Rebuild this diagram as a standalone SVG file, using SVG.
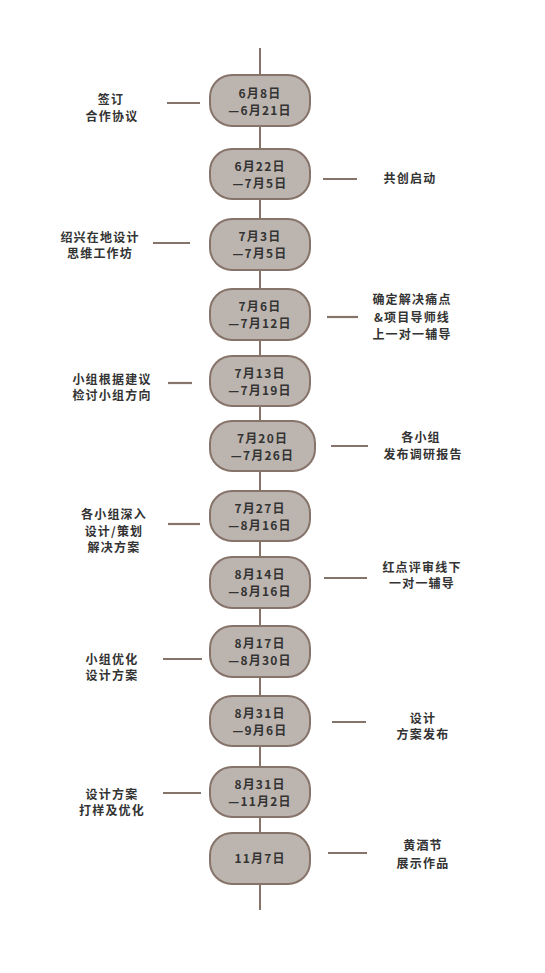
<svg xmlns="http://www.w3.org/2000/svg" width="545" height="973" viewBox="0 0 545 973">
<style>
.bg{fill:#ffffff}
.spine{stroke:#86736a;stroke-width:2;fill:none}
.conn{stroke:#86736a;stroke-width:2.2;fill:none}
.node rect{fill:#bcb5af;stroke:#86736a;stroke-width:2}
text{font-family:"Noto Sans CJK SC","Noto Sans",sans-serif;font-weight:bold;font-size:12px;fill:#333333;text-anchor:middle;letter-spacing:1.2px}
</style>
<rect class="bg" x="0" y="0" width="545" height="973"/>
<g id="connectors">
<line class="spine" x1="260" y1="48" x2="260" y2="910"/>
<line class="conn" x1="167" y1="103" x2="200" y2="103"/>
<line class="conn" x1="323" y1="179" x2="357" y2="179"/>
<line class="conn" x1="153" y1="243" x2="190" y2="243"/>
<line class="conn" x1="327" y1="317" x2="358" y2="317"/>
<line class="conn" x1="168" y1="383" x2="192" y2="383"/>
<line class="conn" x1="331" y1="446" x2="368" y2="446"/>
<line class="conn" x1="168" y1="524" x2="200" y2="524"/>
<line class="conn" x1="324" y1="578" x2="367" y2="578"/>
<line class="conn" x1="163" y1="659" x2="202" y2="659"/>
<line class="conn" x1="332" y1="722" x2="366" y2="722"/>
<line class="conn" x1="163" y1="793" x2="201" y2="793"/>
<line class="conn" x1="328" y1="853" x2="367" y2="853"/>
</g>
<g id="n1" class="node"><rect x="210" y="75" width="100" height="51" rx="22"/><text x="260" y="97.5">6月8日<tspan x="260" dy="17">—6月21日</tspan></text></g>
<g id="n2" class="node"><rect x="210" y="149" width="100" height="50" rx="22"/><text x="260" y="170.5">6月22日<tspan x="260" dy="17">—7月5日</tspan></text></g>
<g id="n3" class="node"><rect x="210" y="219" width="100" height="51" rx="22"/><text x="260" y="241">7月3日<tspan x="260" dy="17">—7月5日</tspan></text></g>
<g id="n4" class="node"><rect x="210" y="289" width="100" height="51" rx="22"/><text x="260" y="311">7月6日<tspan x="260" dy="17">—7月12日</tspan></text></g>
<g id="n5" class="node"><rect x="210" y="356" width="100" height="50" rx="22"/><text x="260" y="377.5">7月13日<tspan x="260" dy="17">—7月19日</tspan></text></g>
<g id="n6" class="node"><rect x="210" y="421" width="105" height="50" rx="22"/><text x="262.5" y="442.5">7月20日<tspan x="262.5" dy="17">—7月26日</tspan></text></g>
<g id="n7" class="node"><rect x="210" y="491" width="100" height="50" rx="22"/><text x="260" y="512.5">7月27日<tspan x="260" dy="17">—8月16日</tspan></text></g>
<g id="n8" class="node"><rect x="210" y="557" width="100" height="51" rx="22"/><text x="260" y="579">8月14日<tspan x="260" dy="17">—8月16日</tspan></text></g>
<g id="n9" class="node"><rect x="210" y="626" width="100" height="51" rx="22"/><text x="260" y="648">8月17日<tspan x="260" dy="17">—8月30日</tspan></text></g>
<g id="n10" class="node"><rect x="210" y="696" width="100" height="50" rx="22"/><text x="260" y="717.5">8月31日<tspan x="260" dy="17">—9月6日</tspan></text></g>
<g id="n11" class="node"><rect x="210" y="767" width="100" height="50" rx="22"/><text x="260" y="788.5">8月31日<tspan x="260" dy="17">—11月2日</tspan></text></g>
<g id="n12" class="node"><rect x="210" y="833" width="100" height="51" rx="22"/><text x="260" y="863">11月7日</text></g>
<g id="l1"><text x="111" y="104">签订<tspan x="112" dy="16.5">合作协议</tspan></text></g>
<g id="l2"><text x="410" y="182.5">共创启动</text></g>
<g id="l3"><text x="100" y="242">绍兴在地设计<tspan x="100" dy="16.2">思维工作坊</tspan></text></g>
<g id="l4"><text x="412" y="303.5">确定解决痛点<tspan x="412" dy="18">&amp;项目导师线</tspan><tspan x="412" dy="17">上一对一辅导</tspan></text></g>
<g id="l5"><text x="112" y="383.5">小组根据建议<tspan x="112" dy="16.2">检讨小组方向</tspan></text></g>
<g id="l6"><text x="421" y="441.5">各小组<tspan x="423" dy="17">发布调研报告</tspan></text></g>
<g id="l7"><text x="114" y="519">各小组深入<tspan x="114" dy="16.5">设计/策划</tspan><tspan x="114" dy="16.2">解决方案</tspan></text></g>
<g id="l8"><text x="422" y="571.5">红点评审线下<tspan x="422" dy="16.2">一对一辅导</tspan></text></g>
<g id="l9"><text x="112" y="664">小组优化<tspan x="112" dy="16.2">设计方案</tspan></text></g>
<g id="l10"><text x="423" y="723">设计<tspan x="423" dy="16.2">方案发布</tspan></text></g>
<g id="l11"><text x="112" y="798.5">设计方案<tspan x="112" dy="16.2">打样及优化</tspan></text></g>
<g id="l12"><text x="423" y="849.5">黄酒节<tspan x="423" dy="18">展示作品</tspan></text></g>
</svg>
